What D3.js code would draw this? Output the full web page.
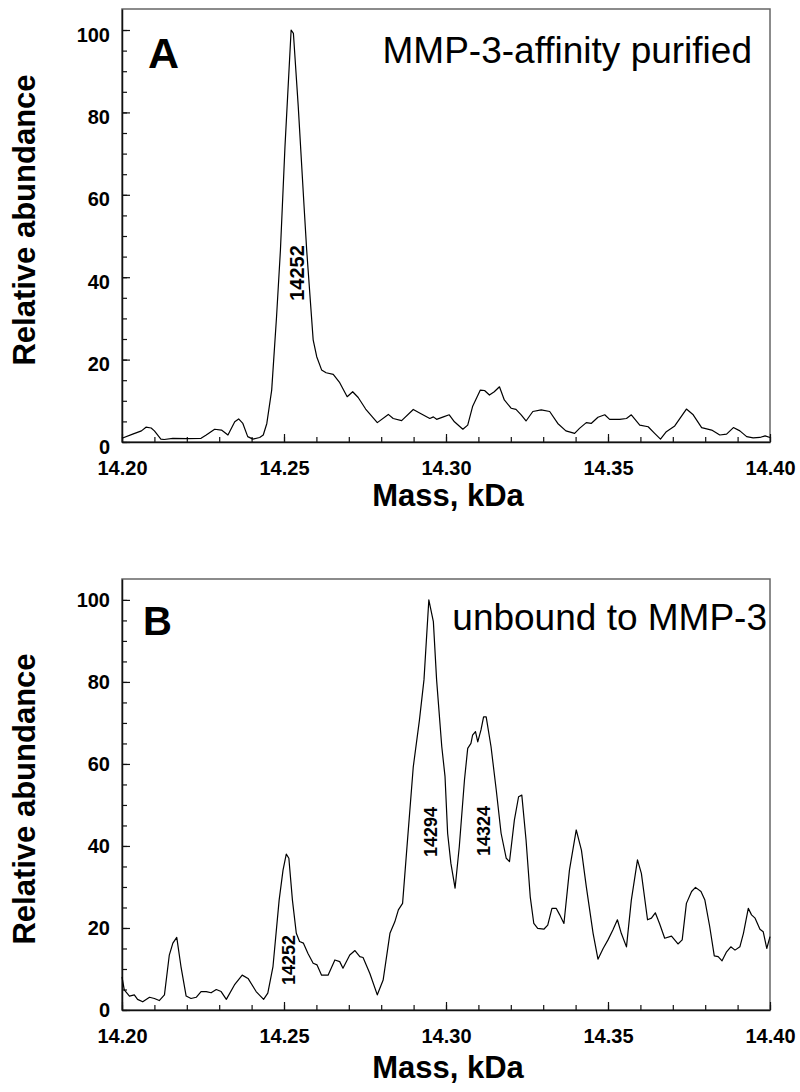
<!DOCTYPE html>
<html>
<head>
<meta charset="utf-8">
<script src="https://cdn.jsdelivr.net/npm/d3@7"></script>
<style>
  body { margin: 0; background: #fff; }
  svg { display: block; font-family: "Liberation Sans", Arial, sans-serif; }
</style>
</head>
<body>
<svg id="chart"></svg>
<script>
// spectrum A: MMP-3-affinity purified
const massA = [14.2000, 14.2033, 14.2060, 14.2074, 14.2090, 14.2100, 14.2120, 14.2130, 14.2157, 14.2200,
  14.2244, 14.2260, 14.2286, 14.2307, 14.2327, 14.2348, 14.2360, 14.2373, 14.2388, 14.2404,
  14.2425, 14.2436, 14.2447, 14.2462, 14.2477, 14.2489, 14.2503, 14.2522, 14.2529, 14.2544,
  14.2562, 14.2570, 14.2590, 14.2601, 14.2616, 14.2630, 14.2652, 14.2672, 14.2695, 14.2712,
  14.2729, 14.2752, 14.2788, 14.2822, 14.2837, 14.2863, 14.2899, 14.2920, 14.2950, 14.2961,
  14.2971, 14.2992, 14.3010, 14.3026, 14.3052, 14.3067, 14.3082, 14.3106, 14.3119, 14.3134,
  14.3149, 14.3165, 14.3180, 14.3201, 14.3216, 14.3232, 14.3247, 14.3268, 14.3294, 14.3320,
  14.3345, 14.3370, 14.3397, 14.3412, 14.3433, 14.3448, 14.3469, 14.3490, 14.3505, 14.3521,
  14.3536, 14.3557, 14.3572, 14.3598, 14.3624, 14.3644, 14.3662, 14.3680, 14.3706, 14.3742,
  14.3763, 14.3789, 14.3820, 14.3845, 14.3866, 14.3887, 14.3907, 14.3928, 14.3948, 14.3969,
  14.3985, 14.4000];
const abundanceA = [0.9, 1.9, 2.7, 3.6, 3.4, 2.7, 0.7, 0.6, 0.9, 0.8,
  0.9, 1.7, 3.1, 2.9, 1.7, 4.9, 5.6, 4.5, 1.3, 0.7,
  1.1, 1.7, 4.5, 12.6, 30.4, 46.6, 71.7, 100, 99.2, 81.4,
  57.1, 46.6, 24.8, 20.7, 17.5, 16.8, 16.4, 14.4, 11.0, 12.2,
  10.8, 8.0, 4.7, 6.7, 5.7, 5.2, 7.9, 7.0, 5.7, 6.1,
  5.5, 6.1, 6.6, 4.9, 3.1, 4.1, 8.6, 12.6, 12.5, 11.4,
  12.2, 13.4, 10.2, 8.2, 7.9, 6.6, 5.1, 7.4, 7.8, 7.4,
  4.5, 2.7, 2.1, 3.3, 4.7, 4.5, 6.0, 6.6, 5.5, 5.5,
  5.5, 5.7, 6.6, 4.1, 3.7, 2.1, 0.7, 2.5, 3.9, 8.0,
  6.6, 3.5, 2.9, 1.7, 1.9, 3.5, 2.7, 1.3, 1.0, 1.1,
  1.5, 1.1];

// spectrum B: unbound to MMP-3
const massB = [14.2000, 14.2007, 14.2023, 14.2038, 14.2048, 14.2064, 14.2085, 14.2100, 14.2115, 14.2131,
  14.2146, 14.2157, 14.2169, 14.2182, 14.2198, 14.2213, 14.2229, 14.2244, 14.2260, 14.2275,
  14.2291, 14.2306, 14.2322, 14.2347, 14.2371, 14.2389, 14.2414, 14.2437, 14.2450, 14.2466,
  14.2485, 14.2497, 14.2507, 14.2515, 14.2526, 14.2538, 14.2548, 14.2560, 14.2574, 14.2590,
  14.2602, 14.2616, 14.2636, 14.2657, 14.2672, 14.2682, 14.2703, 14.2719, 14.2734, 14.2744,
  14.2765, 14.2788, 14.2806, 14.2827, 14.2842, 14.2853, 14.2866, 14.2878, 14.2899, 14.2918,
  14.2932, 14.2947, 14.2961, 14.2971, 14.2987, 14.2997, 14.3005, 14.3015, 14.3028, 14.3041,
  14.3057, 14.3067, 14.3077, 14.3082, 14.3091, 14.3098, 14.3108, 14.3116, 14.3124, 14.3139,
  14.3155, 14.3170, 14.3186, 14.3196, 14.3211, 14.3224, 14.3234, 14.3247, 14.3260, 14.3271,
  14.3283, 14.3302, 14.3314, 14.3327, 14.3340, 14.3351, 14.3364, 14.3381, 14.3402, 14.3418,
  14.3433, 14.3454, 14.3469, 14.3485, 14.3500, 14.3515, 14.3529, 14.3541, 14.3557, 14.3572,
  14.3591, 14.3603, 14.3622, 14.3634, 14.3646, 14.3659, 14.3675, 14.3696, 14.3716, 14.3729,
  14.3742, 14.3758, 14.3770, 14.3787, 14.3799, 14.3814, 14.3828, 14.3840, 14.3852, 14.3866,
  14.3879, 14.3892, 14.3907, 14.3918, 14.3933, 14.3943, 14.3954, 14.3969, 14.3979, 14.3990,
  14.4000];
const abundanceB = [8.1, 4.9, 3.4, 3.7, 2.6, 2.0, 3.1, 2.8, 2.3, 3.7,
  13.4, 16.3, 17.7, 10.6, 3.4, 2.8, 3.1, 4.5, 4.5, 4.2,
  5.0, 4.5, 2.6, 6.1, 8.5, 7.7, 4.5, 2.6, 4.1, 10.6,
  26.8, 34.1, 38.0, 37.0, 26.8, 18.7, 16.7, 16.3, 13.8, 11.4,
  11.0, 8.5, 8.5, 12.2, 11.8, 10.2, 13.4, 14.5, 13.0, 12.8,
  8.9, 3.7, 7.3, 18.7, 21.5, 24.4, 26.0, 38.2, 59.3, 70.7,
  80.5, 100, 94.7, 80.5, 64.2, 56.9, 43.1, 35.8, 29.7, 39.8,
  56.1, 63.8, 65.0, 67.0, 67.9, 65.4, 68.3, 71.5, 71.5, 64.2,
  53.7, 43.1, 37.0, 36.2, 46.3, 52.0, 52.4, 41.5, 27.6, 21.1,
  19.9, 19.7, 20.7, 24.8, 24.8, 23.2, 21.1, 34.1, 43.9, 39.0,
  30.1, 18.7, 12.4, 15.0, 17.1, 19.5, 22.0, 18.7, 15.4, 26.8,
  36.6, 33.3, 22.0, 22.4, 23.7, 21.1, 17.5, 18.0, 16.1, 17.1,
  26.0, 28.9, 29.9, 28.9, 26.8, 20.3, 13.2, 13.0, 12.0, 14.2,
  15.4, 14.6, 15.4, 18.7, 24.8, 23.2, 22.4, 19.7, 19.1, 15.0,
  17.9];

const massTicks = [14.20, 14.25, 14.30, 14.35, 14.40];
const massMinorTicks = d3.range(0, 21).map(i => 14.20 + i * 0.01);
const abundanceTicks = [0, 20, 40, 60, 80, 100];
const abundanceMinorTicks = d3.range(0, 21).map(i => i * 5);

const peaksA = [{ label: "14252", x: 304, y: 273, size: 20 }];
const peaksB = [
  { label: "14252", x: 295, y: 960, size: 18 },
  { label: "14294", x: 437, y: 832, size: 18 },
  { label: "14324", x: 490, y: 831, size: 18 }
];

const width = 800;
const height = 1092;
const left = 122, right = 770;

const svg = d3.select("#chart")
  .attr("width", width)
  .attr("height", height);

const x = d3.scaleLinear().domain([14.20, 14.40]).range([left, right]);

function drawPanel(opts) {
  const y = d3.scaleLinear().domain([0, 105.1]).range([opts.bottom, opts.top]);
  const g = svg.append("g");

  // frame (top/right grey)
  g.append("rect")
    .attr("x", left)
    .attr("y", opts.top)
    .attr("width", right - left)
    .attr("height", opts.bottom - opts.top)
    .attr("fill", "none")
    .attr("stroke", "#666")
    .attr("stroke-width", 1.5);

  // minor ticks
  g.append("g")
    .attr("transform", `translate(0,${opts.bottom})`)
    .call(d3.axisBottom(x).tickValues(massMinorTicks).tickSize(-5).tickSizeOuter(0).tickFormat(""))
    .call(a => a.select(".domain").remove());
  g.append("g")
    .attr("transform", `translate(${left},0)`)
    .call(d3.axisLeft(y).tickValues(abundanceMinorTicks).tickSize(-5).tickSizeOuter(0).tickFormat(""))
    .call(a => a.select(".domain").remove());

  // major ticks + labels
  const xAxis = g.append("g")
    .attr("transform", `translate(0,${opts.bottom})`)
    .call(d3.axisBottom(x).tickValues(massTicks).tickSize(-8).tickSizeOuter(0)
      .tickPadding(19).tickFormat(d3.format(".2f")));
  xAxis.selectAll("text")
    .style("font-size", "20px")
    .style("font-weight", "bold")
    .attr("fill", "#000");

  const yAxis = g.append("g")
    .attr("transform", `translate(${left},0)`)
    .call(d3.axisLeft(y).tickValues(abundanceTicks).tickSize(-8).tickSizeOuter(0).tickPadding(12));
  yAxis.selectAll("text")
    .style("font-size", "20px")
    .style("font-weight", "bold")
    .attr("fill", "#000")
    .attr("dy", opts.yLabelDy);

  g.selectAll(".domain").attr("stroke", "#111").attr("stroke-width", 1.5);
  g.selectAll(".tick line").attr("stroke", "#111").attr("stroke-width", 1.2);

  // spectrum line
  const pts = opts.mass.map((m, i) => [m, opts.abundance[i]]);
  g.append("path")
    .datum(pts)
    .attr("fill", "none")
    .attr("stroke", "#000")
    .attr("stroke-width", 1.2)
    .attr("stroke-linejoin", "round")
    .attr("d", d3.line().x(d => x(d[0])).y(d => y(d[1])));

  // peak labels
  g.selectAll(".peak")
    .data(opts.peaks)
    .enter()
    .append("text")
    .attr("class", "peak")
    .attr("transform", d => `translate(${d.x},${d.y}) rotate(-90)`)
    .attr("text-anchor", "middle")
    .style("font-size", d => d.size + "px")
    .style("font-weight", "bold")
    .text(d => d.label);

  // panel letter
  g.append("text")
    .attr("x", opts.letterX)
    .attr("y", opts.letterY)
    .style("font-size", opts.letterSize + "px")
    .style("font-weight", "bold")
    .text(opts.letter);

  g.append("text")
    .attr("x", opts.noteX)
    .attr("y", opts.noteY)
    .attr("text-anchor", "end")
    .style("font-size", "37px")
    .text(opts.note);

  // axis titles
  g.append("text")
    .attr("transform", `translate(35,${opts.yTitleY}) rotate(-90)`)
    .attr("text-anchor", "middle")
    .style("font-size", "31px")
    .style("font-weight", "bold")
    .text("Relative abundance");

  g.append("text")
    .attr("x", (left + right) / 2 + 2)
    .attr("y", opts.bottom + opts.xTitleGap)
    .attr("text-anchor", "middle")
    .style("font-size", "31px")
    .style("font-weight", "bold")
    .text("Mass, kDa");
}

drawPanel({
  top: 9, bottom: 442, mass: massA, abundance: abundanceA, peaks: peaksA,
  letter: "A", letterX: 148, letterY: 68, letterSize: 43,
  note: "MMP-3-affinity purified", noteX: 752, noteY: 63,
  yTitleY: 220, yLabelDy: "0.55em", xTitleGap: 64
});

drawPanel({
  top: 579, bottom: 1010, mass: massB, abundance: abundanceB, peaks: peaksB,
  letter: "B", letterX: 143, letterY: 635, letterSize: 40,
  note: "unbound to MMP-3", noteX: 767, noteY: 630,
  yTitleY: 799, yLabelDy: "0.32em", xTitleGap: 68
});
</script>
</body>
</html>
